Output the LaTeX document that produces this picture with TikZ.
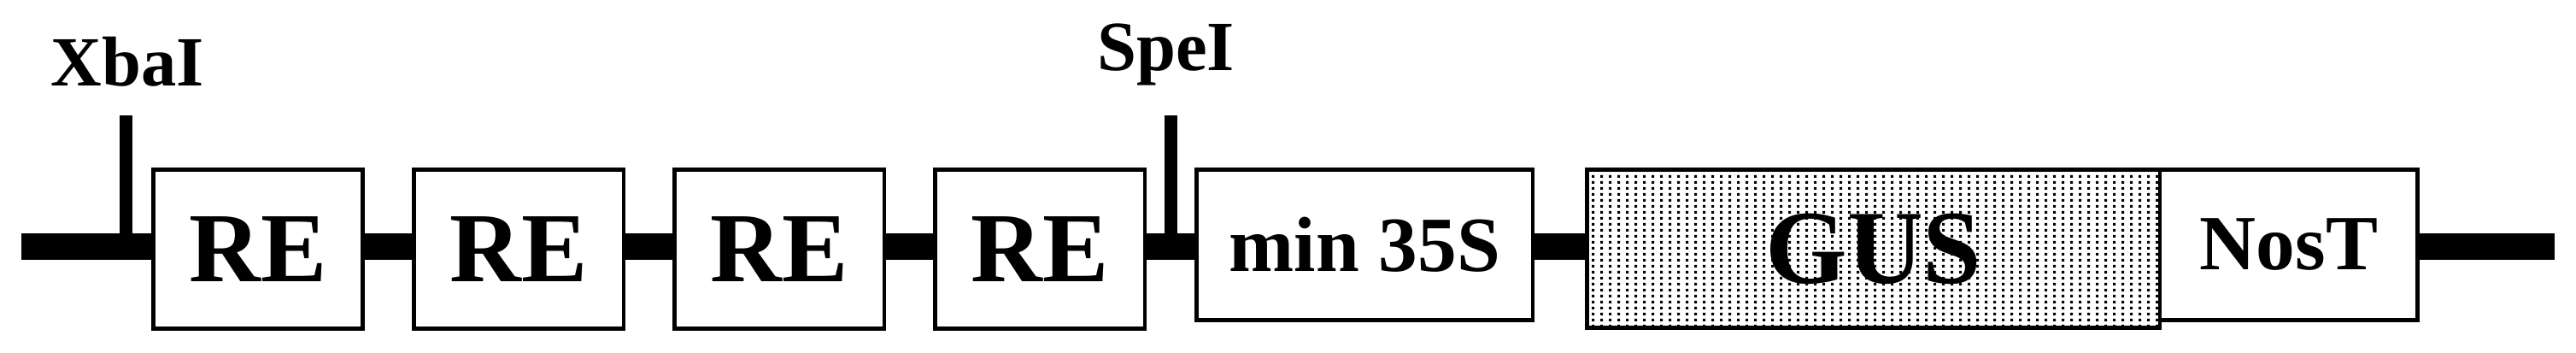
\documentclass[tikz,border=0pt]{standalone}
\usepackage{fontspec}
\setmainfont{Liberation Serif}
\usetikzlibrary{positioning, patterns, backgrounds}
\pgfdeclarepatternformonly{gusdots}{\pgfpointorigin}{\pgfpoint{2.85pt}{2.1pt}}{\pgfpoint{2.85pt}{2.1pt}}{%
  \pgfpathrectangle{\pgfpointorigin}{\pgfpoint{1.0pt}{0.95pt}}\pgfusepath{fill}}
\tikzset{
box/.style={draw, line width=1.3pt, fill=white, inner sep=0pt}, % every element of the construct
rebox/.style={box, minimum width=2.455cm, minimum height=1.865cm, font=\bfseries\fontsize{33}{36}\selectfont}, % the repeated elements
backbone/.style={line width=0.31cm}, % the thick DNA line
cutsite/.style={line width=0.15cm}, % the restriction site ticks
site label/.style={anchor=base, font=\bfseries\fontsize{23.5}{26}\selectfont},
}

\begin{document}
\begin{tikzpicture}
        \useasboundingbox (0,0) rectangle (30.15,4.12);

        \node[rebox] (RE1) at (3.02,1.205) {RE};
        \node[rebox, right=0.55cm of RE1] (RE2) {RE};
        \node[rebox, right=0.55cm of RE2] (RE3) {RE};
        \node[rebox, right=0.55cm of RE3] (RE4) {RE};
        \node[box, minimum width=3.935cm, minimum height=1.765cm, font=\bfseries\fontsize{26}{30}\selectfont,
              right=0.56cm of RE4.north east, anchor=north west] (min35S) {min 35S};
        \node[box, minimum width=6.705cm, minimum height=1.855cm, font=\bfseries\fontsize{35}{38}\selectfont,
              preaction={fill=white}, pattern=gusdots,
              right=0.59cm of min35S.north east, anchor=north west] (GUS) {GUS};
        \node[box, minimum width=3.015cm, minimum height=1.765cm, font=\bfseries\fontsize{26}{30}\selectfont,
              right=-0.045cm of GUS.north east, anchor=north west] (NosT) {NosT};

        \coordinate (start) at (0.25,1.235);
        \coordinate (end) at (29.9,1.235);
        \begin{scope}[on background layer]
            \draw[backbone] (start) -- (end);
        \end{scope}

        % restriction sites
        \coordinate (xbacut) at (1.475,2.77);
        \coordinate (specut) at (13.705,2.77);
        \draw[cutsite] (xbacut) -- (xbacut |- start);
        \draw[cutsite] (specut) -- (specut |- start);
        \node[site label] (XbaI) at (1.49,3.12) {XbaI};
        \node[site label] (SpeI) at (13.645,3.30) {SpeI};
    \end{tikzpicture}
\end{document}
